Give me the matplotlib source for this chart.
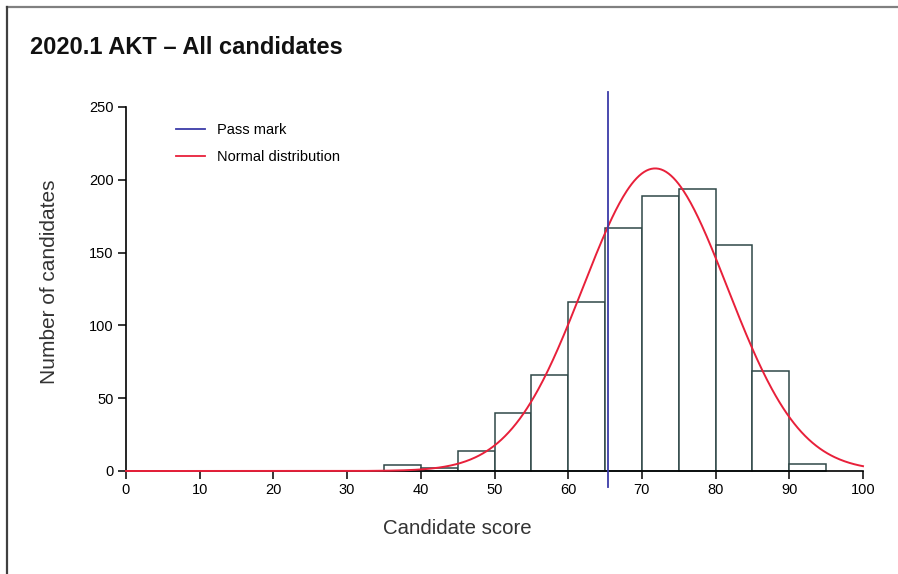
import numpy as np
import matplotlib
matplotlib.use("Agg")
import matplotlib.pyplot as plt
from matplotlib.lines import Line2D

plt.rcParams['font.family'] = ['Liberation Sans', 'DejaVu Sans']

# Data
bin_edges = [35, 40, 45, 50, 55, 60, 65, 70, 75, 80, 85, 90, 95]
counts = [4, 2, 14, 40, 66, 116, 167, 189, 194, 155, 69, 5]
pass_mark = 65.4
mean_score = 71.8
sd_score = 9.8
x_ticks = [0, 10, 20, 30, 40, 50, 60, 70, 80, 90, 100]
y_ticks = [0, 50, 100, 150, 200, 250]

W, H = 898, 574
fig = plt.figure(figsize=(W / 100, H / 100), dpi=100)

# frame lines (top and left)
fig.add_artist(Line2D([7 / W, 1], [1 - 7 / H, 1 - 7 / H], color='#808080', lw=1.6))
fig.add_artist(Line2D([7 / W, 7 / W], [0, 1 - 7 / H], color='#404040', lw=1.6))

fig.text(30 / W, 1 - 47 / H, "2020.1 AKT \u2013 All candidates", fontsize=17,
         fontweight='bold', va='center', ha='left', color='#111111')

ax = fig.add_axes([126 / W, (H - 471) / H, (863 - 126) / W, (471 - 107) / H])

edges = np.array(bin_edges)
ax.bar(edges[:-1], counts, width=np.diff(edges), align='edge', facecolor='white',
       edgecolor='#2f4848', linewidth=1.1, clip_on=False, zorder=2)

# normal distribution curve scaled to histogram
bw = edges[1] - edges[0]
n_total = sum(counts)
xs = np.linspace(0, 100, 600)
ys = n_total * bw / (sd_score * np.sqrt(2 * np.pi)) * np.exp(-0.5 * ((xs - mean_score) / sd_score) ** 2)
ax.plot(xs, ys, color='#e8203a', lw=1.4, clip_on=False, zorder=3)

ax.plot([pass_mark, pass_mark], [-11, 260], color='#3b3ba8', lw=1.3, clip_on=False, zorder=4)

ax.set_xlim(0, 100)
ax.set_ylim(0, 250)
ax.set_xticks(x_ticks)
ax.set_yticks(y_ticks)
for s in ['top', 'right']:
    ax.spines[s].set_visible(False)
for s in ['left', 'bottom']:
    ax.spines[s].set_linewidth(1.2)
ax.tick_params(direction='out', length=6, width=1.1, labelsize=10.5, pad=3)

ax.set_xlabel("Candidate score", fontsize=14.7, color='#333333')
ax.xaxis.set_label_coords(0.45, -0.133)
ax.set_ylabel("Number of candidates", fontsize=15, color='#333333')
ax.yaxis.set_label_coords(-0.091, 0.519)

handles = [Line2D([], [], color='#3b3ba8', lw=1.3), Line2D([], [], color='#e8203a', lw=1.3)]
ax.legend(handles, ['Pass mark', 'Normal distribution'], loc='upper left',
          bbox_to_anchor=(0.05, 0.993), frameon=False, fontsize=10.5,
          handlelength=2.0, handletextpad=0.8, labelspacing=0.9)

fig.savefig("out.png", dpi=100, facecolor='white')
